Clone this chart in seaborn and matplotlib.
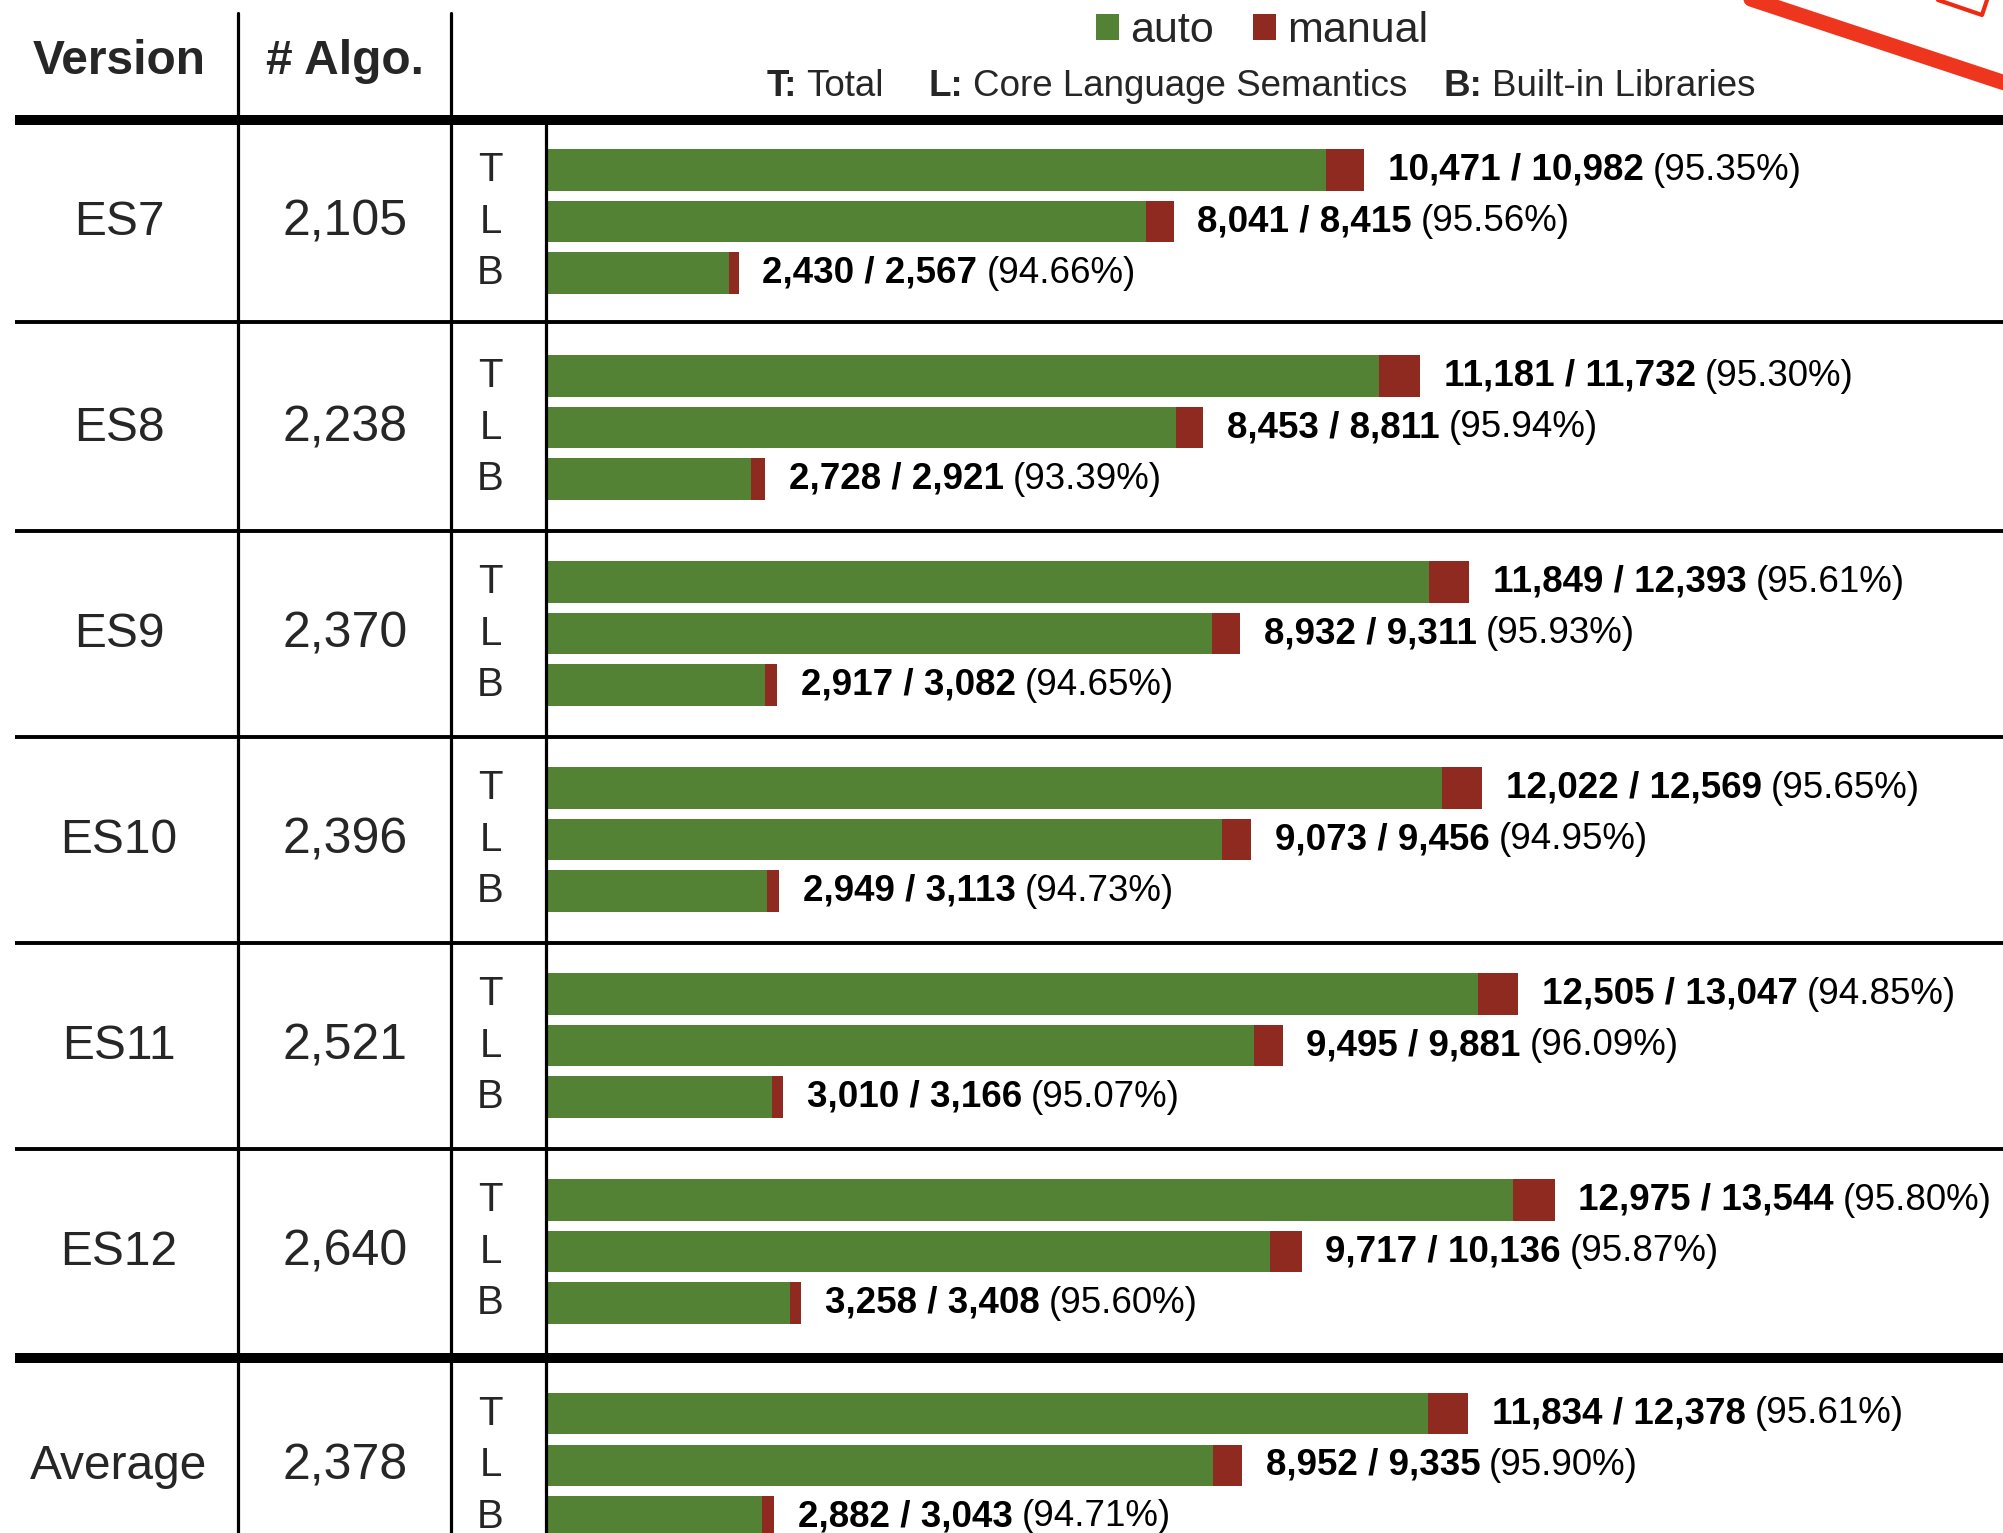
import numpy as np
import pandas as pd
import matplotlib
matplotlib.use("Agg")
import matplotlib.pyplot as plt
import matplotlib.transforms as mtransforms
from matplotlib.lines import Line2D
from matplotlib.patches import Patch
import seaborn as sns

# ---------------- data ----------------
versions = ["ES7", "ES8", "ES9", "ES10", "ES11", "ES12", "Average"]
algo_counts = [2105, 2238, 2370, 2396, 2521, 2640, 2378]
parts = ["T", "L", "B"]

auto_T = [10471, 11181, 11849, 12022, 12505, 12975, 11834]
total_T = [10982, 11732, 12393, 12569, 13047, 13544, 12378]
pct_T = ["95.35", "95.30", "95.61", "95.65", "94.85", "95.80", "95.61"]

auto_L = [8041, 8453, 8932, 9073, 9495, 9717, 8952]
total_L = [8415, 8811, 9311, 9456, 9881, 10136, 9335]
pct_L = ["95.56", "95.94", "95.93", "94.95", "96.09", "95.87", "95.90"]

auto_B = [2430, 2728, 2917, 2949, 3010, 3258, 2882]
total_B = [2567, 2921, 3082, 3113, 3166, 3408, 3043]
pct_B = ["94.66", "93.39", "94.65", "94.73", "95.07", "95.60", "94.71"]

legend_labels = ["auto", "manual"]
subtitle_parts = [("T:", "Total"), ("L:", "Core Language Semantics"), ("B:", "Built-in Libraries")]

GREEN = "#548235"
RED = "#8E2A1F"

# ---------------- layout helpers ----------------
W, H = 2003, 1533
FS_LABEL = 26.5
rows = []
autos = [auto_T, auto_L, auto_B]
totals = [total_T, total_L, total_B]
pcts = [pct_T, pct_L, pct_B]
for g, v in enumerate(versions):
    base = 4 * g + (0.15 if v == "Average" else 0.0)
    for k, p in enumerate(parts):
        rows.append(dict(version=v, part=p, pos=base + k,
                         auto=autos[k][g], total=totals[k][g], pct=pcts[k][g]))
df = pd.DataFrame(rows)

sns.set_style("white")
plt.rcParams["font.family"] = ["Liberation Sans", "DejaVu Sans"]

fig = plt.figure(figsize=(W / 100, H / 100), dpi=100)
ax = fig.add_axes([548 / W, 0, 1 - 548 / W, 1])

sns.barplot(data=df, x="total", y="pos", orient="y", native_scale=True,
            color=RED, saturation=1, width=0.8, errorbar=None, ax=ax, linewidth=0)
sns.barplot(data=df, x="auto", y="pos", orient="y", native_scale=True,
            color=GREEN, saturation=1, width=0.8, errorbar=None, ax=ax, linewidth=0)

px_per_unit = 0.07434
ax.set_xlim(0, (W - 548) / px_per_unit)
y0_px, slot_px = 170.0, 51.5
ax.set_ylim((H - y0_px) / slot_px, -y0_px / slot_px)
ax.axis("off")

# bar labels
for _, r in df.iterrows():
    t1 = ax.annotate(f"{r['auto']:,} / {r['total']:,}", xy=(r["total"], r["pos"]),
                     xytext=(17, 0), textcoords="offset points", ha="left", va="center",
                     fontsize=FS_LABEL, fontweight="bold", color="black")
    ax.annotate(f"({r['pct']}%)", xy=(1, 0.5), xycoords=t1, xytext=(6.5, 0),
                textcoords="offset points", ha="left", va="center",
                fontsize=FS_LABEL, color="black")

# table texts
trans = mtransforms.blended_transform_factory(fig.transFigure, ax.transData)
fig.text(119 / W, 1 - 61 / H, "Version", ha="center", va="center", fontsize=34.5, fontweight="bold")
fig.text(345 / W, 1 - 61 / H, "# Algo.", ha="center", va="center", fontsize=34.5, fontweight="bold")
for g, v in enumerate(versions):
    sub = df[df["version"] == v]
    mid = sub["pos"].iloc[1]
    ax.text(119 / W, mid + 0.02, v, transform=trans, ha="center", va="center", fontsize=34.5)
    ax.text(345 / W, mid + 0.02, f"{algo_counts[g]:,}", transform=trans, ha="center", va="center",
            fontsize=36)
    for _, r in sub.iterrows():
        ax.text(490.5 / W, r["pos"], r["part"], transform=trans, ha="center", va="center", fontsize=29)

# table lines
def hline(s, lw):
    fig.add_artist(Line2D([15 / W, 1], [s, s], transform=trans, color="black", lw=lw,
                          solid_capstyle="butt"))

hline((120 - y0_px) / slot_px, 7.2)
for s in [2.95, 7, 11, 15, 19]:
    hline(s, 2.8)
hline(23.075, 7.2)

for xpx, top in [(237.6, 13), (451, 13), (545.5, 125)]:
    fig.add_artist(Line2D([xpx / W, xpx / W], [1 - top / H, 0], transform=fig.transFigure,
                          color="black", lw=2.3))

# legend
handles = [Patch(facecolor=GREEN, edgecolor="none"), Patch(facecolor=RED, edgecolor="none")]
fig.legend(handles, legend_labels, loc="center", bbox_to_anchor=(1262 / W, 1 - 31 / H),
           ncol=2, frameon=False, fontsize=31, handlelength=0.55, handleheight=0.55,
           handletextpad=0.25, columnspacing=0.9, borderpad=0, borderaxespad=0)

# subtitle
for (b, n), xpx in zip(subtitle_parts, [766.5, 928.7, 1443.6]):
    t = fig.text(xpx / W, 1 - 87 / H, b, ha="left", va="center", fontsize=26.5, fontweight="bold")
    fig.add_artist(matplotlib.text.Annotation(n, xy=(1, 0.5), xycoords=t, xytext=(7, 0),
                                              textcoords="offset points", ha="left", va="center",
                                              fontsize=26.5))

# red stroke at top-right corner
fig.add_artist(Line2D([1745 / W, 1 + 5 / W], [1 + 3 / H, 1 - 84 / H], transform=fig.transFigure,
                      color="#EE2A12", lw=11, alpha=0.95))
fig.add_artist(Line2D([1938 / W, 1982 / W, 1987 / W], [1, 1 - 15 / H, 1], transform=fig.transFigure,
                      color="#EE2A12", lw=3))

fig.savefig("out.png", dpi=100)
